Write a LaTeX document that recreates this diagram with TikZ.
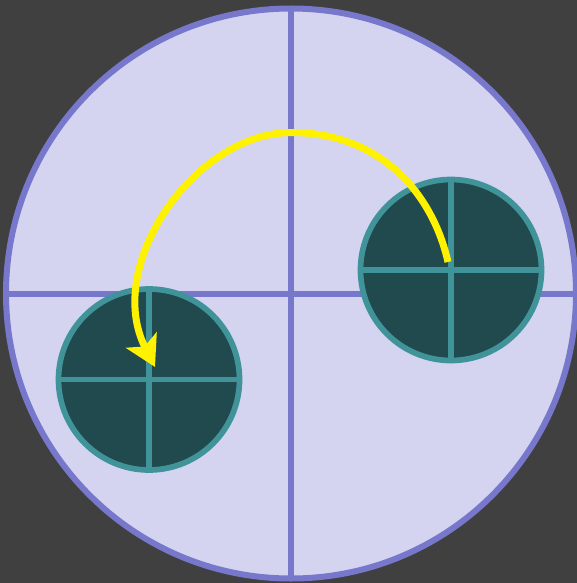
\documentclass[tikz,border=0pt]{standalone}
\usetikzlibrary{arrows.meta}
\definecolor{bg}{HTML}{404040}
\definecolor{bigfill}{HTML}{D4D4F0}
\definecolor{bigline}{HTML}{7777CC}
\definecolor{smallfill}{HTML}{214A4E}
\definecolor{smallline}{HTML}{409499}
\begin{document}
\begin{tikzpicture}[x=1pt,y=-1pt,
  bigdisc/.style={circle, draw=bigline, fill=bigfill, line width=6pt, minimum size=570pt, inner sep=0pt, outer sep=0pt},
  bigcross/.style={draw=bigline, line width=6pt},
  smalldisc/.style={circle, draw=smallline, fill=smallfill, line width=5.7pt, minimum size=181pt, inner sep=0pt, outer sep=0pt},
  smallcross/.style={draw=smallline, line width=5.7pt},
  moveline/.style={draw=yellow, line width=7pt, -{Stealth[length=30pt, width=34pt, inset=7pt]}}]
\fill[bg] (0,0) rectangle (577,583);
\useasboundingbox (0,0) rectangle (577,583);
\node[bigdisc] (big) at (291,293.5) {};
\draw[bigcross] (big.north) -- (big.south);
\draw[bigcross] (big.west) -- (big.east);
\node[smalldisc] (right) at (451,270) {};
\draw[smallcross] (right.north) -- (right.south);
\draw[smallcross] (right.west) -- (right.east);
\node[smalldisc] (left) at (149,379.5) {};
\draw[smallcross] (left.north) -- (left.south);
\draw[smallcross] (left.west) -- (left.east);
\coordinate (s) at (448,262);
\coordinate (top) at (291,132.5);
\coordinate (e) at (155,367);
\draw[moveline] (s) .. controls (432.6,193.8) and (381,132.5) .. (top)
  .. controls (196,132.5) and (103,264.6) .. (e);
\end{tikzpicture}
\end{document}
